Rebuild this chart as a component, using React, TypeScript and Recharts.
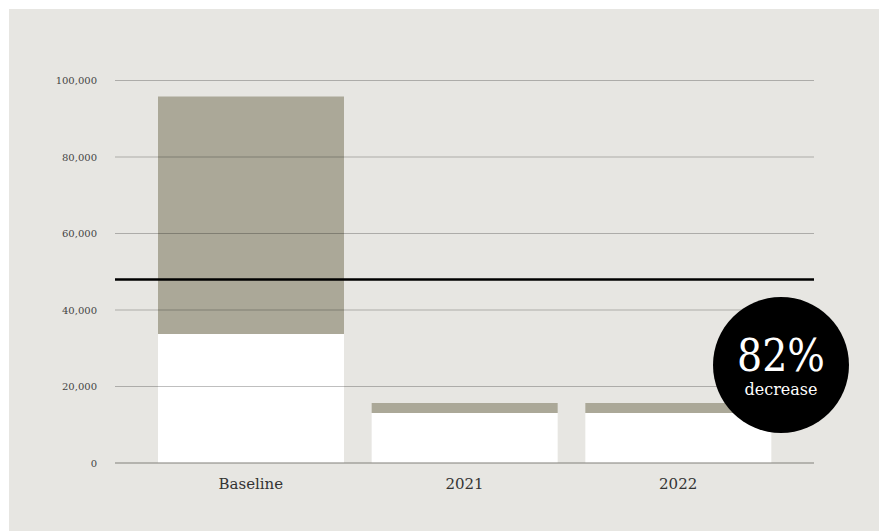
import React from 'react';
import { BarChart, Bar, XAxis, YAxis, ReferenceLine } from 'recharts';

const categories = ['Baseline', '2021', '2022'];
const baseValues = [33700, 13100, 13100];
const topValues = [62100, 2600, 2600];
const yTicks = [0, 20000, 40000, 60000, 80000, 100000];
const targetLine = 48000;

const data = categories.map((name, i) => ({ name, base: baseValues[i], top: topValues[i] }));

const serif = "'DejaVu Serif', serif";

export default function App() {
    return (
        <div style={{ position: 'absolute', left: 9, top: 9, width: 870, height: 522, background: '#e7e6e2' }}>
            <BarChart
                width={870}
                height={522}
                data={data}
                margin={{ top: 71.5, right: 65, bottom: 38, left: 0 }}
                barCategoryGap={14}
            >
                <XAxis
                    dataKey="name"
                    height={30}
                    padding={{ left: 29, right: 29 }}
                    axisLine={{ stroke: '#9e9d97' }}
                    tickLine={false}
                    tickMargin={9}
                    tick={{ fill: '#333', fontSize: 15, fontFamily: serif }}
                />
                <YAxis
                    width={106}
                    domain={[0, 100000]}
                    ticks={yTicks}
                    axisLine={false}
                    tickLine={false}
                    tickMargin={12}
                    tickFormatter={(v: number) => v.toLocaleString('en-US')}
                    tick={{ fill: '#444', fontSize: 10, fontFamily: serif }}
                />
                <Bar dataKey="base" stackId="a" fill="#ffffff" isAnimationActive={false} />
                <Bar dataKey="top" stackId="a" fill="#aba898" isAnimationActive={false} />
                {yTicks.map((t) => (
                    <ReferenceLine key={t} y={t} stroke="#000" strokeOpacity={0.25} />
                ))}
                <ReferenceLine y={targetLine} stroke="#000" strokeWidth={2.5} />
            </BarChart>

            {/* 82% badge */}
            <div
                style={{
                    position: 'absolute',
                    left: 704,
                    top: 288,
                    width: 136,
                    height: 136,
                    borderRadius: '50%',
                    background: '#000',
                    color: '#fff',
                    fontFamily: "'DejaVu Serif Condensed', 'DejaVu Serif', serif",
                    textAlign: 'center',
                }}
            >
                <div style={{ fontSize: 44, lineHeight: '44px', marginTop: 37, fontWeight: 300 }}>82%</div>
                <div style={{ fontSize: 16, lineHeight: '20px', marginTop: 2, fontFamily: serif }}>decrease</div>
            </div>
        </div>
    );
}
